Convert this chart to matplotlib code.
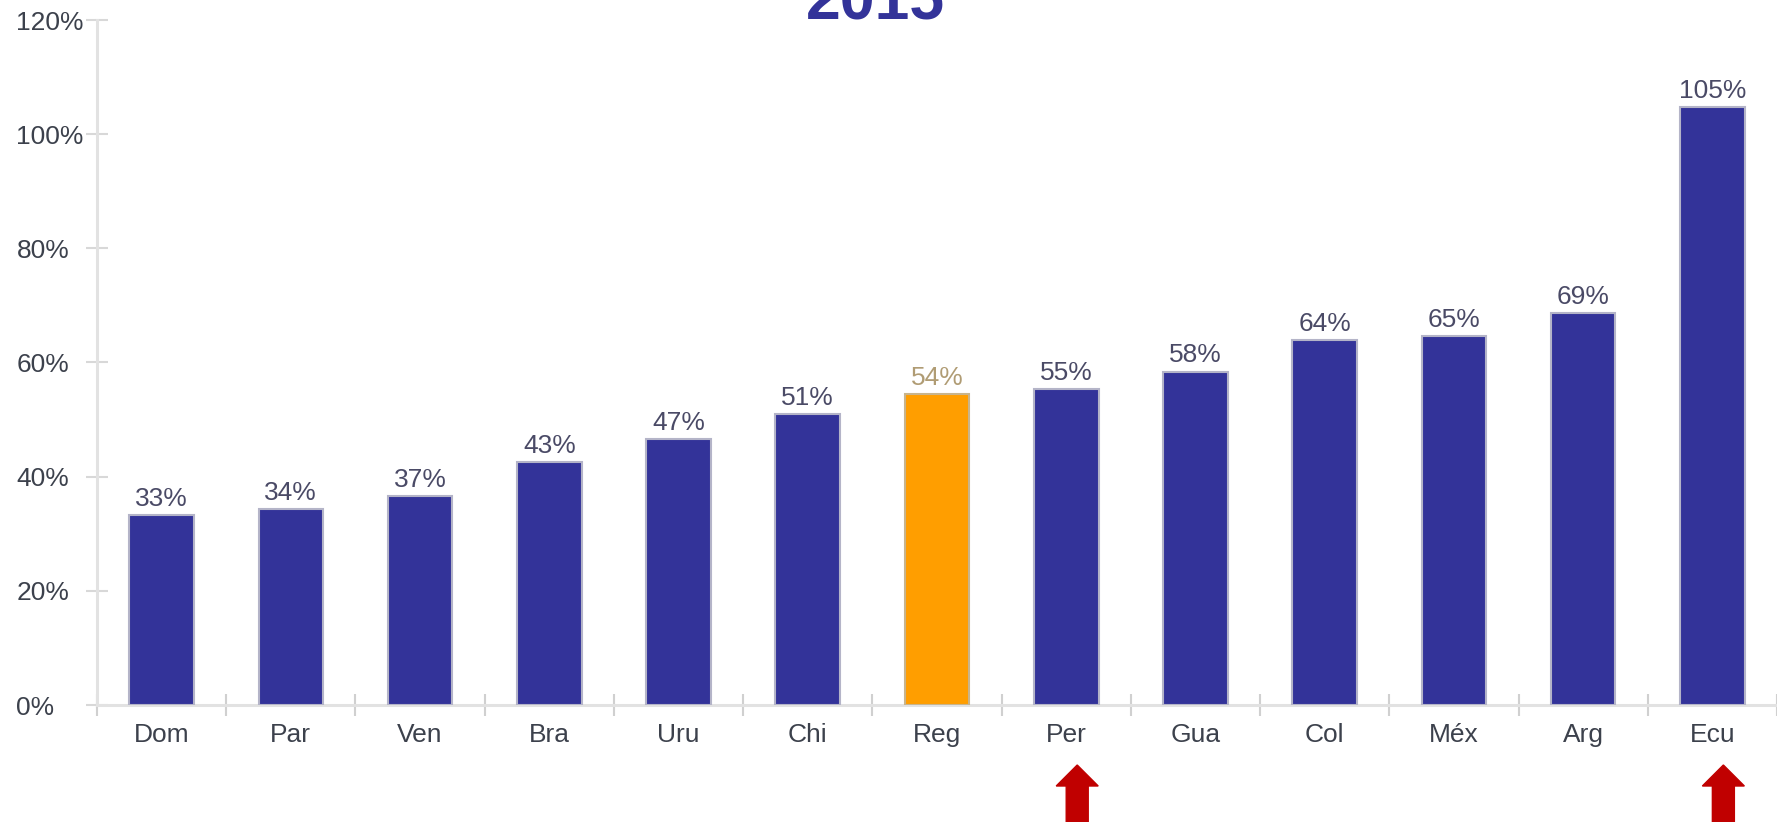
import matplotlib
matplotlib.use("Agg")
import matplotlib.pyplot as plt
from matplotlib.patches import Polygon

plt.rcParams['font.family'] = ['Liberation Sans', 'DejaVu Sans']

categories = ["Dom", "Par", "Ven", "Bra", "Uru", "Chi", "Reg", "Per", "Gua", "Col", "Méx", "Arg", "Ecu"]
values = [33.2, 34.3, 36.6, 42.6, 46.6, 51.0, 54.4, 55.4, 58.4, 63.9, 64.6, 68.6, 104.8]
highlight = "Reg"
arrow_categories = ["Per", "Ecu"]
yticks = [0, 20, 40, 60, 80, 100, 120]
ytick_labels = ["0%", "20%", "40%", "60%", "80%", "100%", "120%"]
title = "2015"

W, H = 1777, 822
fig = plt.figure(figsize=(W / 100, H / 100), dpi=100)
ax = fig.add_axes([97 / W, 1 - 705 / H, 1 - 97 / W, (705 - 20) / H])

navy = "#333399"
orange = "#FF9E00"
x = list(range(len(categories)))
colors = [orange if c == highlight else navy for c in categories]
edges = ["#c8b48c" if c == highlight else "#b4b4c8" for c in categories]
ax.bar(x, values, width=0.5, color=colors, edgecolor=edges, linewidth=1.5, zorder=3)

for xi, v, c in zip(x, values, categories):
    col = "#b09c74" if c == highlight else "#4a4a66"
    ax.annotate(f"{v:.0f}%", (xi, v), xytext=(0, 3), textcoords="offset points",
                ha="center", va="bottom", fontsize=19, color=col)

ax.set_xlim(-0.5, len(categories) - 0.5)
ax.set_ylim(0, 120)
ax.set_yticks(yticks)
ax.set_yticklabels(ytick_labels)
ax.set_xticks(x)
ax.set_xticklabels(categories)
ax.set_xticks([i - 0.5 for i in range(len(categories) + 1)], minor=True)

ax.tick_params(axis="x", which="major", length=0, pad=13, labelsize=19, labelcolor="#3c414c")
ax.tick_params(axis="x", which="minor", direction="inout", length=16, width=1.5, color="#d0d0d0")
ax.tick_params(axis="y", direction="inout", length=16, width=1.5, color="#d8d8d8",
               pad=50, labelsize=19, labelcolor="#3c414c")
for t in ax.get_yticklabels():
    t.set_horizontalalignment("left")

for s in ["top", "right"]:
    ax.spines[s].set_visible(False)
for s in ["left", "bottom"]:
    ax.spines[s].set_color("#e2e2e2")
    ax.spines[s].set_linewidth(2.2)

fig.text(875 / W, 1 - 20 / H, title, ha="center", va="baseline", fontsize=45,
         fontweight="bold", color=navy)

# red arrows under highlighted categories
fig.canvas.draw()
for c in arrow_categories:
    i = categories.index(c)
    px, _ = ax.transData.transform((i + 0.085, 0))
    tip = H - 765
    base = H - 786
    pts = [(px, tip), (px - 21, base), (px - 11, base), (px - 11, -5),
           (px + 11, -5), (px + 11, base), (px + 21, base)]
    fig.patches.append(Polygon(pts, closed=True, transform=None, color="#C00000",
                               figure=fig))

fig.savefig("out.png", dpi=100)
